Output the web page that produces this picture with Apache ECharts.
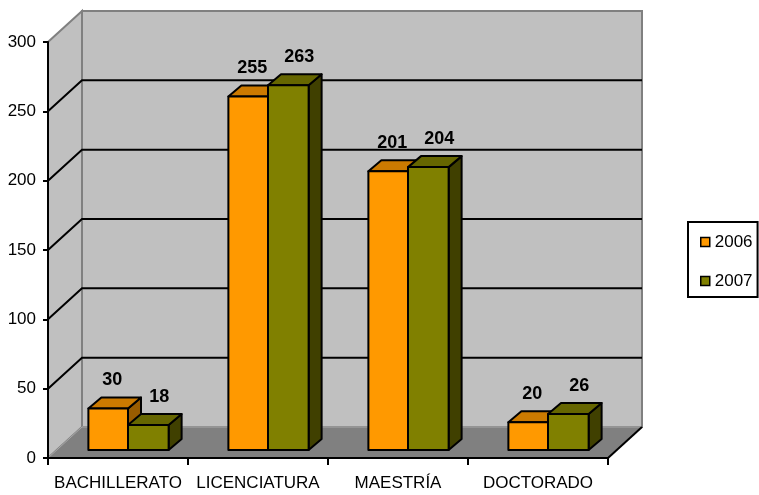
<!DOCTYPE html>
<html>
<head>
<meta charset="utf-8">
<script src="https://cdn.jsdelivr.net/npm/echarts@6/dist/echarts.min.js"></script>
<style>html,body{margin:0;padding:0;background:#fff;}#c{width:759px;height:495px;}</style>
</head>
<body>
<div id="c"></div>
<script>
const categories = ['BACHILLERATO', 'LICENCIATURA', 'MAESTRÍA', 'DOCTORADO'];
const seriesNames = ['2006', '2007'];
const values2006 = [30, 255, 201, 20];
const values2007 = [18, 263, 204, 26];
const gridValues = [50, 100, 150, 200, 250];

const FONT = "'Liberation Sans', Arial, sans-serif";
const WALL = { dx: 34, dy: -31 };
const BAR_SHIFT = { dx: 10, dy: -8 };
const BAR_DEPTH = { dx: 13, dy: -11 };

const chart = echarts.init(document.getElementById('c'), null, { renderer: 'canvas' });

function wallsRender(params, api) {
  const cs = params.coordSys;
  const x0 = cs.x, x1 = cs.x + cs.width;
  const y0 = api.coord([0, 0])[1];
  const yTop = api.coord([0, 300])[1];
  const dx = WALL.dx, dy = WALL.dy;
  const children = [];
  children.push({ type: 'rect', shape: { x: x0 + dx, y: yTop + dy, width: x1 - x0, height: y0 - yTop },
    style: { fill: '#C0C0C0', stroke: '#808080', lineWidth: 2 } });
  children.push({ type: 'polygon', shape: { points: [[x0, y0], [x0, yTop], [x0 + dx, yTop + dy], [x0 + dx, y0 + dy]] },
    style: { fill: '#C0C0C0', stroke: '#808080', lineWidth: 2 } });
  children.push({ type: 'polygon', shape: { points: [[x0, y0], [x1, y0], [x1 + dx, y0 + dy], [x0 + dx, y0 + dy]] },
    style: { fill: '#808080', stroke: '#A8A8A8', lineWidth: 1 } });
  children.push({ type: 'line', shape: { x1: x1, y1: y0, x2: x1 + dx, y2: y0 + dy },
    style: { stroke: '#000', lineWidth: 2 } });
  gridValues.forEach(function (v) {
    const y = api.coord([0, v])[1];
    children.push({ type: 'polyline', shape: { points: [[x0, y], [x0 + dx, y + dy], [x1 + dx, y + dy]] },
      style: { stroke: '#000', lineWidth: 2, fill: null } });
  });
  return { type: 'group', children: children };
}

function makeBarRender(cfg) {
  return function (params, api) {
    const cat = api.value(0), v = api.value(1);
    const top = api.coord([cat, v]);
    const base = api.coord([cat, 0]);
    const band = api.size([1, 0])[0];
    const W = band * 0.283;
    const cx = top[0] + BAR_SHIFT.dx;
    const L = cfg.left ? cx - W : cx;
    const R = cfg.left ? cx : cx + W + 1;
    const topY = top[1] + BAR_SHIFT.dy;
    const baseY = base[1] + BAR_SHIFT.dy;
    const dx = BAR_DEPTH.dx, dy = BAR_DEPTH.dy;
    const edge = { stroke: '#000', lineWidth: 2, lineJoin: 'round' };
    return {
      type: 'group',
      children: [
        { type: 'polygon', shape: { points: [[R, topY], [R, baseY], [R + dx, baseY + dy], [R + dx, topY + dy]] },
          style: Object.assign({ fill: cfg.side }, edge) },
        { type: 'polygon', shape: { points: [[L, topY], [R, topY], [R + dx, topY + dy], [L + dx, topY + dy]] },
          style: Object.assign({ fill: cfg.top }, edge) },
        { type: 'rect', shape: { x: L, y: topY, width: R - L, height: baseY - topY },
          style: Object.assign({ fill: cfg.front }, edge) },
        { type: 'text', style: { text: String(v), x: (L + R) / 2 + cfg.labelDx, y: topY + dy - 17,
          align: 'center', verticalAlign: 'middle', fill: '#000', font: 'bold 18px ' + FONT } }
      ]
    };
  };
}

const option = {
  animation: false,
  backgroundColor: '#fff',
  textStyle: { fontFamily: FONT },
  grid: { left: 48, top: 42, width: 560, height: 416, containLabel: false },
  legend: {
    orient: 'vertical', left: 688, top: 222,
    padding: [11, 5, 7, 12], itemGap: 21, itemWidth: 9, itemHeight: 9,
    borderColor: '#000', borderWidth: 2, backgroundColor: '#fff',
    textStyle: { fontSize: 17, color: '#000', fontFamily: FONT, lineHeight: 18 },
    data: [
      { name: seriesNames[0], icon: 'rect', itemStyle: { color: '#FF9900', borderColor: '#000', borderWidth: 1.5 } },
      { name: seriesNames[1], icon: 'rect', itemStyle: { color: '#808000', borderColor: '#000', borderWidth: 1.5 } }
    ]
  },
  xAxis: {
    type: 'category', data: categories, z: 10,
    axisLine: { lineStyle: { color: '#000', width: 2 } },
    axisTick: { show: true, length: 7, lineStyle: { color: '#000', width: 2 } },
    axisLabel: { color: '#000', fontSize: 17, margin: 17, fontFamily: FONT, interval: 0 },
    splitLine: { show: false }
  },
  yAxis: {
    type: 'value', min: 0, max: 300, interval: 50, z: 10,
    axisLine: { show: true, lineStyle: { color: '#000', width: 2 } },
    axisTick: { show: true, length: 5, lineStyle: { color: '#000', width: 2 } },
    axisLabel: { color: '#000', fontSize: 17, margin: 12, fontFamily: FONT },
    splitLine: { show: false }
  },
  series: [
    { type: 'custom', name: 'walls', z: 1, silent: true, renderItem: wallsRender, data: [[0, 0]], encode: { x: 0, y: 1 } },
    { type: 'custom', name: seriesNames[0], z: 2,
      itemStyle: { color: '#FF9900', borderColor: '#000', borderWidth: 1.5 },
      renderItem: makeBarRender({ left: true, front: '#FF9900', top: '#CC7A00', side: '#995C00', labelDx: 4 }),
      data: values2006.map(function (v, i) { return [i, v]; }), encode: { x: 0, y: 1 } },
    { type: 'custom', name: seriesNames[1], z: 2,
      itemStyle: { color: '#808000', borderColor: '#000', borderWidth: 1.5 },
      renderItem: makeBarRender({ left: false, front: '#808000', top: '#666600', side: '#404000', labelDx: 11 }),
      data: values2007.map(function (v, i) { return [i, v]; }), encode: { x: 0, y: 1 } }
  ]
};
chart.setOption(option);
</script>
</body>
</html>
